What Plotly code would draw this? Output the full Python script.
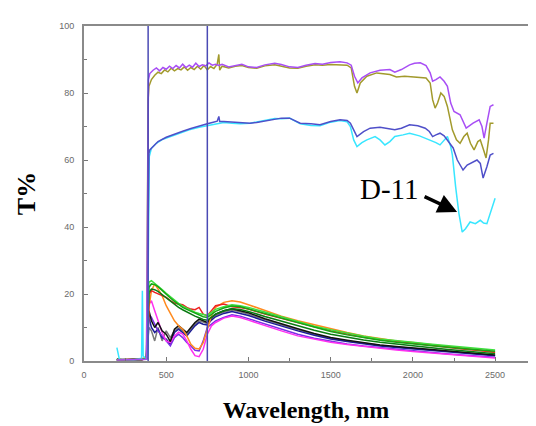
import plotly.graph_objects as go

# ---- upper (high transmittance) spectra ----
wl_violet = [200, 380, 392, 400, 420, 440, 460, 480, 500, 520, 540, 560, 580, 600, 620, 640, 660, 680, 700,
             720, 740, 760, 780, 800, 820, 840, 880, 920, 960, 1000, 1050, 1100, 1160, 1200, 1250, 1300, 1350,
             1405, 1450, 1500, 1557, 1600, 1625, 1645, 1665, 1690, 1740, 1800, 1860, 1890, 1930, 1980, 2010,
             2045, 2080, 2105, 2120, 2140, 2165, 2190, 2210, 2230, 2250, 2287, 2324, 2366, 2403, 2420, 2433,
             2450, 2470, 2490]
t_violet = [0.3, 0.5, 84, 85.8, 86.8, 87.5, 86.6, 87.6, 87.1, 88, 87.3, 88.2, 87.5, 88.6, 87.6, 88.3, 87.7, 88.9, 87.9,
            88.4, 88.1, 89, 88.3, 88.6, 88.2, 88.6, 87.8, 88.2, 88.6, 87.8, 87.6, 88.4, 88.9, 88.5, 87.8, 87.6, 88.3,
            88.8, 88.6, 89.1, 89.3, 89, 88.3, 85, 83, 84.5, 86, 86.8, 87, 86.2, 87, 88.4, 88.9,
            89, 88.2, 86, 83.5, 84, 84.8, 83.5, 82, 77, 74.5, 73.5, 69.5, 71, 72, 70, 66.5,
            71, 76, 76.5]

wl_olive = [200, 380, 390, 395, 410, 430, 450, 470, 490, 510, 530, 550, 570, 590, 610, 630, 650, 670, 690, 710,
            730, 750, 770, 790, 810, 820, 825, 840, 880, 920, 960, 1000, 1050, 1100, 1160, 1200, 1250, 1300,
            1350, 1405, 1450, 1500, 1557, 1600, 1625, 1645, 1660, 1680, 1720, 1780, 1860, 1900, 1950, 2000,
            2045, 2080, 2105, 2120, 2135, 2150, 2170, 2190, 2210, 2240, 2265, 2287, 2310, 2330, 2350, 2372,
            2395, 2410, 2430, 2445, 2460, 2470, 2490]
t_olive = [0.3, 0.5, 78, 82, 84, 85.3, 86.2, 85.8, 86.9, 86.3, 87.4, 86.6, 87.3, 86.9, 87.8, 86.8, 87.6, 87, 88, 87.1,
           88.2, 86.9, 87.9, 87.3, 88.6, 91.5, 86.8, 88, 87.5, 88, 88.2, 87.6, 87.4, 88.1, 88.4, 88, 87.5, 87.4,
           88, 88.4, 88.3, 88.5, 88.5, 88.3, 87.5, 82, 80, 83, 85, 86, 85.5, 84.8, 85, 84.8,
           84.8, 84.5, 83, 78, 75.5, 77, 80, 79, 76, 69, 66, 65, 67, 68, 65, 63,
           65.5, 66, 63, 60.6, 66, 71, 71]

wl_blue = [200, 380, 390, 392, 395, 400, 420, 450, 500, 550, 600, 650, 700, 750, 780, 810, 820, 825, 850, 900,
           950, 1010, 1050, 1100, 1160, 1200, 1250, 1315, 1380, 1435, 1500, 1557, 1600, 1620, 1640, 1660, 1700,
           1740, 1800, 1860, 1890, 1930, 1980, 2030, 2075, 2100, 2120, 2140, 2165, 2190, 2210, 2245, 2270, 2305,
           2330, 2348, 2390, 2410, 2427, 2450, 2470, 2490]
t_blue = [0.3, 0.5, 40, 58, 62, 63, 64, 65.5, 66.8, 67.8, 68.6, 69.4, 70.2, 70.8, 71.2, 71.6, 73, 71.5, 71.5, 71.3,
          71.2, 71, 71.2, 71.6, 72.3, 72.5, 72.5, 71, 70.8, 70.5, 71.5, 72, 71.8, 71, 69, 67, 68.5,
          69.5, 69.8, 69.4, 69, 69.5, 70.5, 70.2, 69.5, 68.5, 67, 67.5, 68, 67.2, 66, 63.6, 60, 57,
          58.5, 59, 60, 59, 54.6, 58, 61.5, 62]

wl_cyan = [200, 215, 300, 350, 355, 360, 380, 388, 391, 393, 397, 410, 440, 480, 523, 580, 640, 700, 750, 800,
           850, 900, 950, 1010, 1050, 1100, 1160, 1200, 1250, 1315, 1380, 1435, 1500, 1557, 1600, 1620, 1640,
           1660, 1690, 1720, 1770, 1800, 1830, 1860, 1890, 1940, 1980, 2040, 2105, 2140, 2165, 2190, 2210, 2230,
           2240, 2260, 2280, 2300, 2320, 2348, 2380, 2410, 2430, 2450, 2470, 2500]
t_cyan = [4, 0.5, 0.3, 0.8, 21, 1.5, 0.6, 2, 30, 58, 61, 63.5, 65, 66.2, 67, 68, 69, 69.8, 70.3, 70.8,
          71.2, 71, 70.8, 71, 71.4, 72, 72.4, 72.3, 72.5, 70.8, 70.3, 70.2, 71.3, 71.8, 71.4, 70, 66,
          64, 65.2, 66, 67, 66, 64.5, 65.5, 67, 67.5, 68, 67.2, 66, 65.2, 64.5, 65.8, 67, 64,
          61.5, 52, 44, 38.5, 39.5, 41.5, 41, 42, 41.2, 41, 44, 48.6]

# ---- lower (low transmittance) spectra, shared wavelength grid ----
wl_low = [200, 250, 300, 350, 380, 388, 395, 410, 430, 450, 475, 500, 525, 550, 575, 600, 625, 650, 675, 700,
          725, 750, 775, 800, 850, 900, 950, 1000, 1100, 1200, 1300, 1400, 1500, 1600, 1700, 1800, 1900, 2000,
          2100, 2200, 2300, 2400, 2500]
t_green = [0.5, 0.3, 0.5, 0.4, 1, 10, 22, 23, 22.8, 22.2, 21, 19.8, 18.8, 17.8, 16.8, 16, 15.4, 14.8, 14.2, 13.6,
           13.2, 13, 14, 14.8, 15.8, 16.4, 16.2, 15.6, 14.2, 12.8, 11.4, 10, 8.8, 7.8, 6.9, 6.2, 5.6, 5.2,
           4.7, 4.2, 3.7, 3.3, 2.9]
t_lime = [0.4, 0.2, 0.4, 0.5, 1, 12, 23.5, 24, 23.2, 22.5, 21.3, 20.2, 19.2, 18.1, 17.2, 16.4, 15.8, 15.1, 14.6, 14.2,
          13.8, 13.6, 14.5, 15.4, 16.2, 16.8, 16.5, 16, 14.6, 13.2, 11.8, 10.4, 9.3, 8.3, 7.4, 6.6, 6, 5.6,
          5.1, 4.6, 4.1, 3.7, 3.3]
t_darkgreen = [0.3, 0.4, 0.3, 0.5, 0.8, 9, 20.5, 21.5, 21.3, 20.8, 19.8, 18.8, 17.8, 16.8, 16, 15.3, 14.6, 14, 13.4, 12.9,
               12.4, 12.2, 13.2, 14, 15, 15.6, 15.4, 14.8, 13.3, 11.9, 10.5, 9.2, 8, 7.1, 6.3, 5.6, 5, 4.5,
               4, 3.5, 3, 2.6, 2.2]
t_red = [0.5, 0.4, 0.6, 0.4, 1, 8, 20, 21, 20.5, 20, 19.5, 19, 18, 17.3, 17, 16.8, 16, 15.5, 15.3, 16,
         14, 13.5, 15, 16.5, 17, 16.2, 16, 15.5, 14, 12.7, 11.3, 10.2, 9, 8, 7.1, 6.4, 5.8, 5.3,
         4.8, 4.2, 3.6, 3.1, 2.6]
t_orange = [0.3, 0.5, 0.3, 0.6, 1, 6, 16, 21, 23, 21.5, 19.5, 16.5, 14, 12, 10.5, 9.5, 7.5, 5, 3.8, 3.6,
            5.5, 9.5, 13.5, 16, 17.5, 18, 17.6, 16.8, 15, 13.4, 12, 10.8, 9.6, 8.5, 7.5, 6.7, 6, 5.5,
            5, 4.4, 3.9, 3.3, 2.5]
t_magenta = [0.4, 0.3, 0.5, 0.3, 0.8, 5, 17, 18, 15, 12, 8.5, 6, 5.5, 7.5, 8.6, 8, 6, 3.5, 1.6, 1.3,
             3.5, 8, 10.5, 11.5, 12.8, 13.4, 13, 12.2, 10.5, 9, 7.5, 6.5, 5.6, 4.9, 4.3, 3.8, 3.3, 2.8,
             2.4, 2, 1.6, 1.2, 0.9]
t_purple = [0.3, 0.4, 0.3, 0.5, 0.7, 4, 14, 13, 11, 9, 7.5, 6, 4.5, 7, 8, 7, 5.5, 4.5, 3.2, 3,
            6, 10, 11, 12, 13, 13.8, 13.4, 12.6, 11, 9.4, 8, 6.8, 5.9, 5.1, 4.5, 4, 3.5, 3.1,
            2.6, 2.2, 1.8, 1.4, 1.1]
t_black = [0.5, 0.3, 0.4, 0.5, 0.9, 7, 15, 12, 10, 11.5, 9, 8, 5.8, 9.5, 10.5, 9.5, 8.5, 10, 11.5, 12.5,
           12, 11.5, 13, 14, 15, 15.6, 15, 14.4, 12.6, 11, 9.6, 8.2, 7, 6.2, 5.4, 4.8, 4.3, 3.9,
           3.4, 2.9, 2.5, 2.1, 1.8]
t_navy = [0.3, 0.5, 0.3, 0.4, 1, 22, 13, 10, 8.5, 9.5, 7, 6.5, 5, 8.5, 9.5, 8.5, 7.5, 9, 10.5, 11.5,
          11, 10.8, 12.2, 13.2, 14.2, 14.8, 14.3, 13.6, 11.9, 10.4, 9, 7.7, 6.6, 5.8, 5.1, 4.5, 4, 3.6,
          3.1, 2.7, 2.3, 1.9, 1.6]
t_gray = [0.4, 0.3, 0.4, 0.3, 0.8, 5, 10, 9, 6, 10, 6, 9, 7, 9, 9.8, 9, 8, 9.5, 11, 12,
          11.6, 11.2, 12.6, 13.6, 14.6, 15.2, 14.7, 14, 12.3, 10.7, 9.3, 8, 6.8, 6, 5.3, 4.7, 4.2, 3.8,
          3.3, 2.8, 2.4, 2, 1.7]

# band edges marked by vertical lines (nm)
band_edges = [390, 750]

# label on the D-11 spectrum and the point the arrow indicates
label_text = "D-11"
label_pos = (1855, 51.3)
arrow_tail = (2062, 49.3)
arrow_head = (2269, 44.5)

x_ticks = [0, 500, 1000, 1500, 2000, 2500]
y_ticks = [0, 20, 40, 60, 80, 100]

fig = go.Figure()

lower = [
    (t_gray, "#7a7a7a"),
    (t_navy, "#1c1c96"),
    (t_purple, "#7b2ee6"),
    (t_magenta, "#ff30f0"),
    (t_black, "#111111"),
    (t_orange, "#ff8a1e"),
    (t_red, "#ee2222"),
    (t_darkgreen, "#0b7a12"),
    (t_lime, "#3ee03e"),
    (t_green, "#14a814"),
]
for vals, col in lower:
    fig.add_trace(go.Scatter(x=wl_low, y=vals, mode="lines",
                             line=dict(color=col, width=1.5), showlegend=False))

upper = [
    (wl_cyan, t_cyan, "#38e6ff"),
    (wl_blue, t_blue, "#4f4fc9"),
    (wl_olive, t_olive, "#a29a2c"),
    (wl_violet, t_violet, "#a84ef5"),
]
for wl, vals, col in upper:
    fig.add_trace(go.Scatter(x=wl, y=vals, mode="lines",
                             line=dict(color=col, width=1.5), showlegend=False))

for xe in band_edges:
    fig.add_shape(type="line", xref="x", yref="y", x0=xe, x1=xe, y0=0, y1=100,
                  line=dict(color="#4a4ab4", width=1.5))

fig.add_annotation(x=label_pos[0], y=label_pos[1], text=label_text, showarrow=False,
                   font=dict(family="Liberation Serif", size=29, color="#000000"))
fig.add_annotation(x=arrow_head[0], y=arrow_head[1], ax=arrow_tail[0], ay=arrow_tail[1],
                   xref="x", yref="y", axref="x", ayref="y", text="", showarrow=True,
                   arrowhead=2, arrowsize=1.1, arrowwidth=3.5, arrowcolor="#000000")

tick_font = dict(family="Arial", size=9, color="#6a6a6a")
fig.update_xaxes(range=[0, 2700], tickvals=x_ticks, ticktext=[str(v) for v in x_ticks],
                 ticks="inside", ticklen=4, tickcolor="#777777",
                 minor=dict(dtick=250, ticks="inside", ticklen=3, tickcolor="#777777"),
                 showline=True, linecolor="#8a8a8a", linewidth=2, mirror=True,
                 showgrid=False, zeroline=False, tickfont=tick_font, ticklabelstandoff=4,
                 title=dict(text="<b>Wavelength, nm</b>", standoff=22,
                            font=dict(family="Liberation Serif", size=24, color="#000000")))
fig.update_yaxes(range=[0, 100], tickvals=y_ticks, ticktext=[str(v) for v in y_ticks],
                 ticks="inside", ticklen=4, tickcolor="#777777",
                 minor=dict(dtick=10, ticks="inside", ticklen=3, tickcolor="#777777"),
                 showline=True, linecolor="#8a8a8a", linewidth=2,
                 showgrid=False, zeroline=False, tickfont=tick_font, ticklabelstandoff=6,
                 title=dict(text="<b>T%</b>", standoff=16,
                            font=dict(family="Liberation Serif", size=26, color="#000000")))

fig.update_layout(width=536, height=426, margin=dict(l=84, r=8, t=26, b=65),
                  paper_bgcolor="white", plot_bgcolor="white")

fig.write_html("out.html")
